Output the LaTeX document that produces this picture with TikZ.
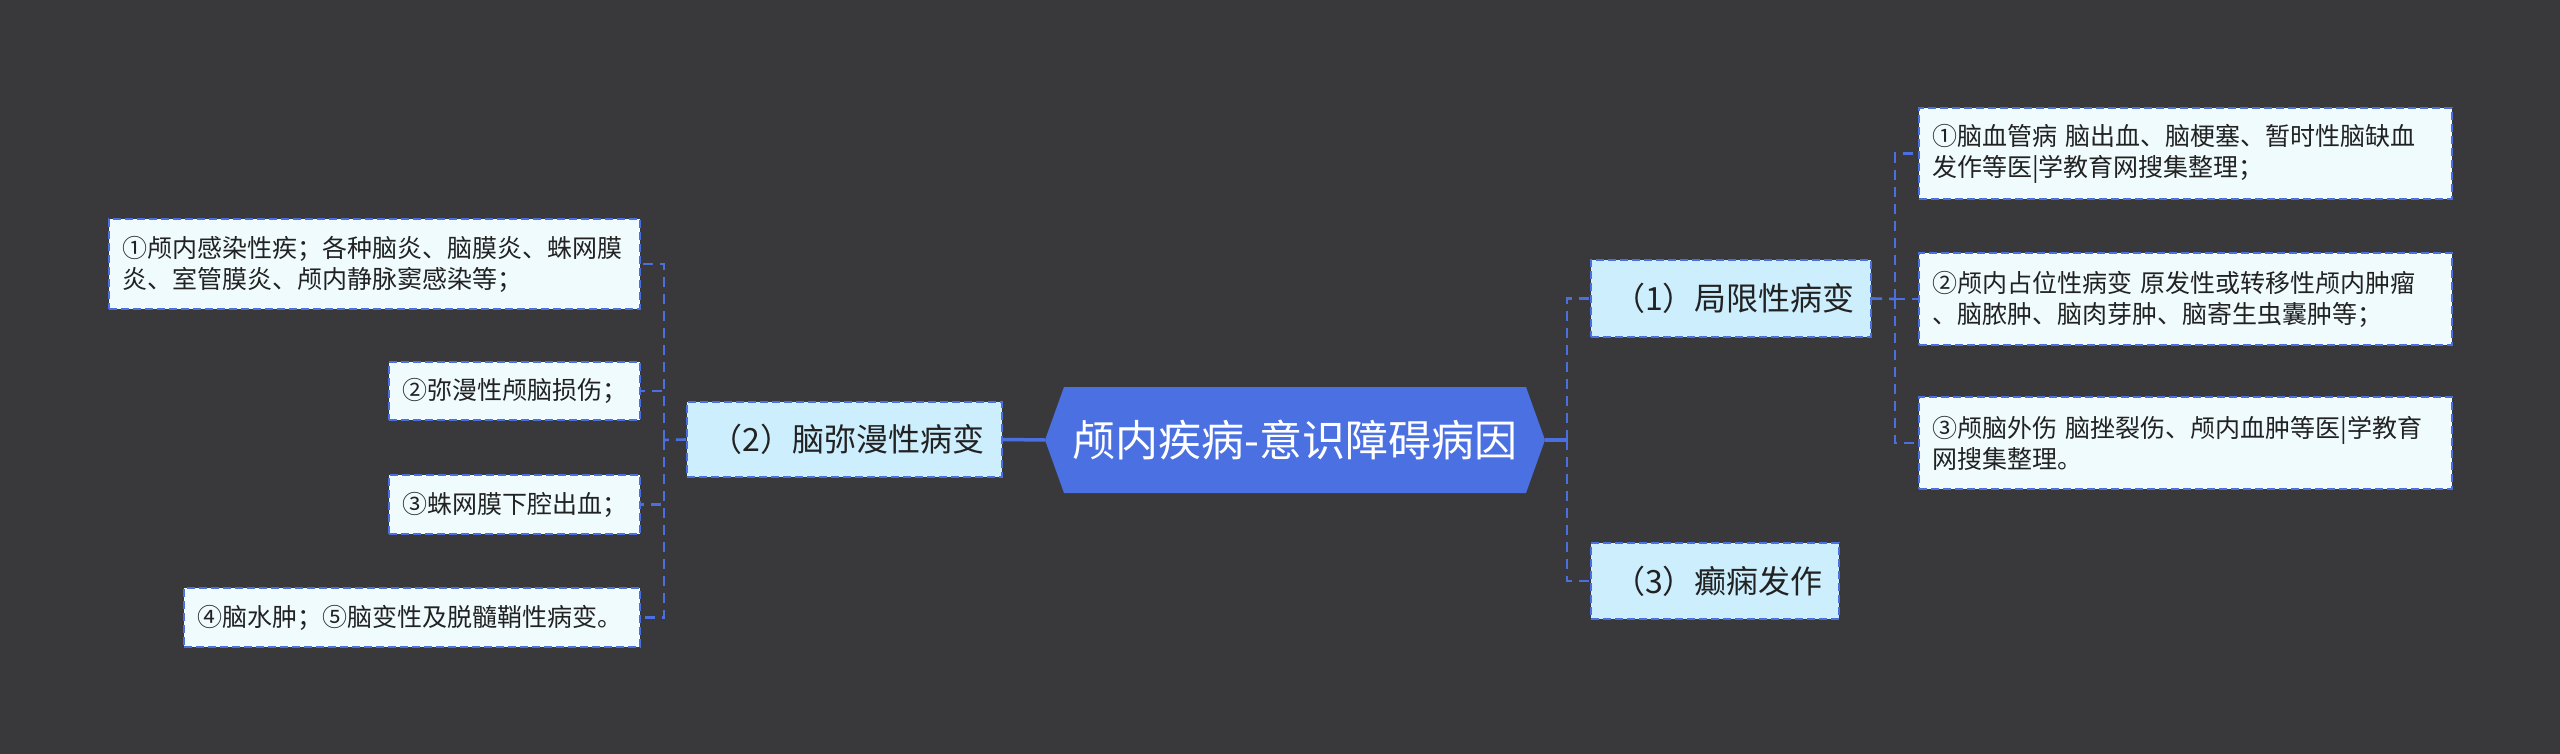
\documentclass[tikz,border=0pt]{standalone}
\usepackage{fontspec}
\setmainfont{Noto Sans CJK SC}
\definecolor{bgc}{HTML}{39393B}
\definecolor{linec}{HTML}{4C6FE0}
\definecolor{rootc}{HTML}{4B70E2}
\definecolor{lvonec}{HTML}{CDEEFD}
\definecolor{leafc}{HTML}{F0FBFE}
\definecolor{txtc}{HTML}{222222}
\begin{document}
\begin{tikzpicture}[x=1pt,y=-1pt,
  boxbase/.style={draw=linec, dash pattern=on 8pt off 4pt, line width=2.2pt, text=txtc, inner ysep=0pt},
  leaf/.style={boxbase, fill=leafc, font=\fontsize{25}{31}\selectfont, align=left, inner xsep=13pt},
  lvone/.style={boxbase, fill=lvonec, font=\fontsize{32}{38}\selectfont, align=center, inner xsep=0pt},
  conn/.style={draw=linec, line width=2.6pt, dash pattern=on 10pt off 7pt},
  solidconn/.style={draw=linec, line width=3.5pt}
]
\useasboundingbox[fill=bgc] (0,0) rectangle (2560,754);

% root hexagon
\fill[rootc] (1045,440) -- (1064,387) -- (1526,387) -- (1545,440) -- (1526,493) -- (1064,493) -- cycle;
\node[text=white, font=\fontsize{43}{48}\selectfont, minimum width=500pt, minimum height=106pt, inner sep=0pt] (root) at (1295,440) {颅内疾病-意识障碍病因};

% level one
\node[lvone, minimum width=315pt, minimum height=75pt] (n2) at (844.5,439.5) {\hspace*{6pt}（2）脑弥漫性病变};
\node[lvone, minimum width=280pt, minimum height=77pt] (n1) at (1731,298.5) {\hspace*{6pt}（1）局限性病变};
\node[lvone, minimum width=248pt, minimum height=76pt] (n3) at (1715,581) {\hspace*{6pt}（3）癫痫发作};

% left leaves
\node[leaf, text width=505pt, minimum height=90pt] (la) at (374.5,264) {①颅内感染性疾；各种脑炎、脑膜炎、蛛网膜\\炎、室管膜炎、颅内静脉窦感染等；};
\node[leaf, text width=225pt, minimum height=58pt] (lb) at (514.5,391) {②弥漫性颅脑损伤；};
\node[leaf, text width=225pt, minimum height=59pt] (lc) at (514.5,504.5) {③蛛网膜下腔出血；};
\node[leaf, text width=430pt, minimum height=59pt] (ld) at (412,617.5) {④脑水肿；⑤脑变性及脱髓鞘性病变。};

% right leaves
\node[leaf, text width=507pt, minimum height=91pt] (ra) at (2185.5,153.5) {①脑血管病 脑出血、脑梗塞、暂时性脑缺血\\发作等医|学教育网搜集整理；};
\node[leaf, text width=507pt, minimum height=92pt] (rb) at (2185.5,299) {②颅内占位性病变 原发性或转移性颅内肿瘤\\、脑脓肿、脑肉芽肿、脑寄生虫囊肿等；};
\node[leaf, text width=507pt, minimum height=92pt] (rc) at (2185.5,443) {③颅脑外伤 脑挫裂伤、颅内血肿等医|学教育\\网搜集整理。};

% connectors
\coordinate (lj) at (664,440);
\coordinate (rj) at (1567,440);
\coordinate (rj2) at (1895,299);

\draw[solidconn] (n2.east) -- (root.west);
\draw[solidconn] (root.east) -- (rj);
\draw[conn] (rj) |- (n1.west);
\draw[conn] (rj) |- (n3.west);

\draw[conn] (n2.west) -- (lj);
\draw[conn] (lj) |- (la.east);
\draw[conn] (lj) |- (lb.east);
\draw[conn] (lj) |- (lc.east);
\draw[conn] (lj) |- (ld.east);

\draw[conn] (n1.east) -- (rj2);
\draw[conn] (rj2) |- (ra.west);
\draw[conn] (rj2) |- (rb.west);
\draw[conn] (rj2) |- (rc.west);
\end{tikzpicture}
\end{document}
